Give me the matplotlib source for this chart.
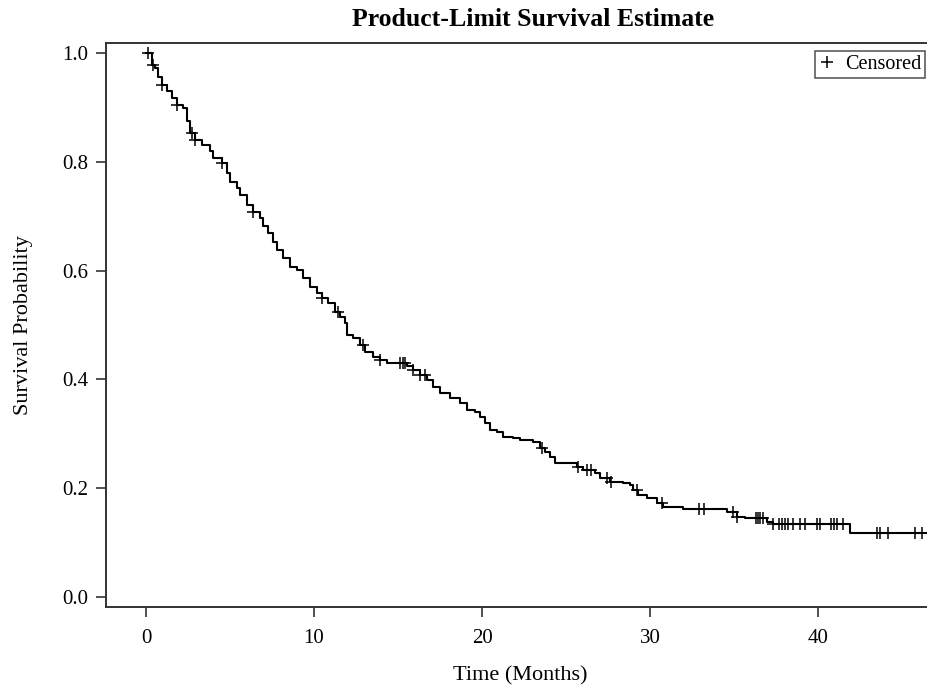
import numpy as np
import matplotlib
matplotlib.use("Agg")
import matplotlib.pyplot as plt

# Step curve: time (months) at which survival drops, and new level
step_times = [0.00, 0.34, 0.54, 0.71, 0.93, 1.23, 1.53, 1.83, 2.20, 2.42, 2.62, 2.92, 3.32,
              3.81, 3.99, 4.51, 4.80, 5.00, 5.40, 5.60, 5.99, 6.37, 6.79, 6.96, 7.26, 7.56,
              7.78, 8.15, 8.57, 8.97, 9.35, 9.76, 10.16, 10.46, 10.83, 11.25, 11.55, 11.85,
              11.95, 12.32, 12.74, 13.04, 13.51, 13.93, 14.33, 15.52, 15.89, 16.31, 16.71,
              17.08, 17.50, 18.10, 18.69, 19.09, 19.58, 19.88, 20.18, 20.48, 20.88, 21.25,
              21.85, 22.26, 23.04, 23.45, 23.75, 24.05, 24.35, 25.64, 26.01, 26.73, 27.02,
              27.62, 28.39, 28.81, 28.99, 29.29, 29.80, 30.40, 30.77, 31.37, 31.96, 34.57,
              35.16, 35.65, 36.95, 37.32, 41.90, 48.50]
step_surv = [1.000, 0.978, 0.972, 0.956, 0.941, 0.929, 0.917, 0.904, 0.899, 0.874, 0.853,
             0.840, 0.831, 0.819, 0.807, 0.798, 0.779, 0.763, 0.752, 0.739, 0.721, 0.708,
             0.696, 0.681, 0.669, 0.653, 0.638, 0.623, 0.607, 0.601, 0.586, 0.570, 0.559,
             0.550, 0.540, 0.524, 0.515, 0.504, 0.482, 0.476, 0.463, 0.451, 0.442, 0.436,
             0.430, 0.424, 0.417, 0.408, 0.399, 0.387, 0.375, 0.366, 0.357, 0.344, 0.341,
             0.331, 0.320, 0.307, 0.304, 0.295, 0.292, 0.289, 0.285, 0.274, 0.267, 0.258,
             0.247, 0.240, 0.233, 0.228, 0.219, 0.212, 0.210, 0.206, 0.197, 0.188, 0.182,
             0.173, 0.166, 0.165, 0.162, 0.157, 0.148, 0.145, 0.138, 0.135, 0.118, 0.118]

# Censored observation times (months)
censor_times = [0.12, 0.42, 0.95, 1.83, 2.72, 2.92, 4.51, 6.37, 10.46, 11.43, 12.92, 13.93,
                15.12, 15.30, 15.42, 15.89, 16.31, 16.61, 23.57, 25.71, 26.25, 26.49, 27.44,
                27.68, 29.23, 30.70, 32.92, 33.21, 34.94, 35.18, 36.31, 36.43, 36.55, 36.73,
                37.32, 37.68, 37.86, 38.04, 38.21, 38.51, 38.93, 39.23, 39.94, 40.12, 40.77,
                40.95, 41.13, 41.49, 43.51, 43.69, 44.17, 45.77, 46.19]

x_ticks = [0, 10, 20, 30, 40]
y_ticks = [0.0, 0.2, 0.4, 0.6, 0.8, 1.0]

plt.rcParams['font.family'] = ['Liberation Serif', 'DejaVu Serif']

W, H = 928, 689
fig = plt.figure(figsize=(W / 100, H / 100), dpi=100)
left, right, bottom, top = 106, 960, 607, 43
ax = fig.add_axes([left / W, (H - bottom) / H, (right - left) / W, (bottom - top) / H])

st = np.array(step_times)
ss = np.array(step_surv)
ax.plot(st, ss, drawstyle='steps-post', color='black', lw=1.5)

ct = np.array(censor_times)
idx = np.searchsorted(st, ct, side='right') - 1
cs = ss[idx]
ax.plot(ct, cs, linestyle='none', marker='+', color='black', markersize=8.5, mew=1.1,
        label='Censored')

ax.set_xlim(-2.38, 48.45)
ax.set_ylim(-0.018, 1.018)
ax.set_xticks(x_ticks)
ax.set_yticks(y_ticks)
ax.set_xticklabels([str(v) for v in x_ticks])
ax.set_yticklabels([f"{v:.1f}" for v in y_ticks])
ax.tick_params(direction='out', length=7, width=1.1, labelsize=15, color='#222222')
ax.tick_params(axis='x', pad=9)
ax.tick_params(axis='y', pad=6)

for s in ['left', 'bottom', 'top']:
    ax.spines[s].set_linewidth(1.4)
    ax.spines[s].set_color('#333333')
ax.spines['right'].set_visible(False)

ax.set_xlabel('Time (Months)', fontsize=16, labelpad=13)
ax.xaxis.label.set_x((520 - left) / (right - left))
ax.set_ylabel('Survival Probability', fontsize=16, labelpad=21)

fig.text(533.5 / W, 1 - 20 / H, 'Product-Limit Survival Estimate', ha='center', va='center',
         fontsize=18.5, fontweight='bold')

leg = ax.legend(loc='upper right', bbox_to_anchor=(925 / W, 1 - 51 / H),
                bbox_transform=fig.transFigure, fontsize=14.5, frameon=True, fancybox=False,
                handlelength=0.8, handletextpad=0.5, borderpad=0.2, borderaxespad=0)
leg.get_frame().set_edgecolor('#222222')
leg.get_frame().set_linewidth(1.1)

fig.savefig('out.png', dpi=100)
